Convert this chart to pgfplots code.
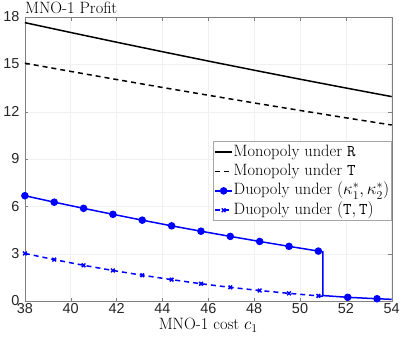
\documentclass[border=0pt]{standalone}
\usepackage{fontspec}
\newfontfamily\ticksf{Liberation Sans}
\usepackage{pgfplots}
\pgfplotsset{compat=1.18}

\begin{document}
\begin{tikzpicture}
\begin{axis}[
  scale only axis, width=367.4bp, height=284.4bp,
  xmin=38, xmax=54, ymin=0, ymax=18,
  xtick={38,40,...,54}, ytick={0,3,...,18},
  /pgf/number format/assume math mode=true,
  tick label style={font=\ticksf\fontsize{14.5}{14.5}\selectfont, text=black!85},
  xticklabel style={yshift=1bp},
  yticklabel style={xshift=-2bp, yshift=0.5bp},
  tick align=inside, major tick length=3.5bp,
  axis line style={black!50}, every tick/.style={black!50},
  grid=major, grid style={gray!12, line width=0.5bp},
  xlabel={MNO-1 cost $c_1$},
  xlabel style={at={(axis description cs:0.5,0)}, anchor=base, yshift=-28.3bp, font=\fontsize{16.5}{20}\selectfont},
  clip=false,
  legend cell align=left,
  legend image code/.code={\draw[#1, mark indices={2}] plot coordinates {(0cm,0cm) (0.3cm,0cm) (0.6cm,0cm)};},
  legend style={at={(1,0.5626)}, anchor=north east, draw=gray!70, line width=0.5bp,
    font=\fontsize{16.5}{20}\selectfont, inner xsep=1.5bp, inner ysep=1.5bp,
    nodes={inner sep=0.8bp, text height=12.2bp, text depth=4bp}, row sep=1.6bp},
]
\addplot[black, line width=1.5bp] coordinates {
  (38,17.660) (40,17.035) (42,16.420) (44,15.817) (46,15.225)
  (48,14.645) (50,14.075) (52,13.518) (54,12.971)};
\addlegendentry{Monopoly under \texttt{R}}
\addplot[black, line width=1.5bp, dash pattern=on 5bp off 4bp] coordinates {
  (38,15.090) (40,14.568) (42,14.055) (44,13.551) (46,13.057)
  (48,12.571) (50,12.095) (52,11.628) (54,11.171)};
\addlegendentry{Monopoly under \texttt{T}}
\addplot[blue, line width=1.5bp, mark=*, mark size=3bp,
  mark indices={1,2,3,4,5,6,7,8,9,10,11,14,15}] coordinates {
  (38.00,6.69) (39.28,6.28) (40.56,5.89) (41.84,5.51) (43.12,5.14)
  (44.40,4.78) (45.68,4.44) (46.96,4.11) (48.24,3.79) (49.52,3.48)
  (50.80,3.18) (51.00,3.13) (51.00,0.36) (52.08,0.25) (53.36,0.16)
  (54.00,0.12)};
\addlegendentry{Duopoly under $(\kappa_1^*,\kappa_2^*)$}
\addplot[blue, line width=1.5bp, dash pattern=on 5bp off 4bp, mark=x, mark size=2.6bp,
  mark options={solid}, mark indices={1,2,3,4,5,6,7,8,9,10,11}] coordinates {
  (38.00,3.03) (39.28,2.64) (40.56,2.28) (41.84,1.95) (43.12,1.65)
  (44.40,1.37) (45.68,1.11) (46.96,0.88) (48.24,0.68) (49.52,0.50)
  (50.80,0.34) (51.00,0.32)};
\addlegendentry{Duopoly under $(\texttt{T},\texttt{T})$}
\node[anchor=base west, inner sep=0pt, font=\fontsize{16.5}{20}\selectfont]
  at ([yshift=4bp]rel axis cs:0,1) {MNO-1 Profit};
\path ([xshift=-24.3bp,yshift=-42.3bp]rel axis cs:0,0) rectangle ([xshift=15.3bp,yshift=17.3bp]rel axis cs:1,1);
\end{axis}
\end{tikzpicture}
\end{document}
